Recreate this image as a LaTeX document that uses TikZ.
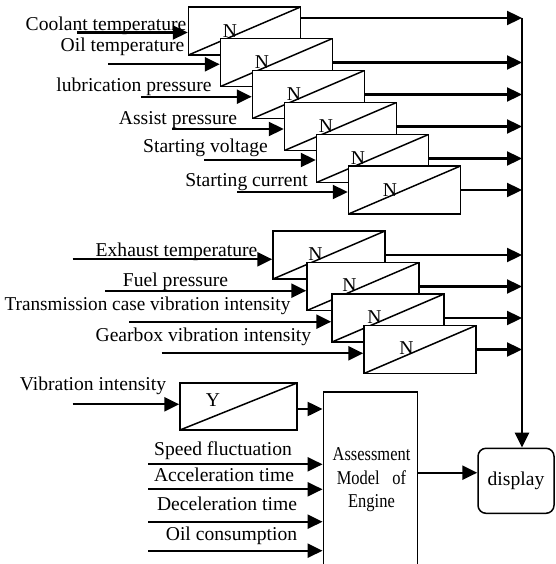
\documentclass[tikz,border=0pt]{standalone}
\usepackage{fontspec}
\setmainfont{Liberation Serif}
\usetikzlibrary{arrows.meta}
\begin{document}
\begin{tikzpicture}[x=1pt,y=-1pt,
  every node/.style={font=\fontsize{19.6}{24}\selectfont},
  lab/.style={anchor=base, inner sep=0pt},
  nl/.style={anchor=center, inner sep=0pt},
  conv/.style={draw, line width=1.5pt, fill=white, minimum width=112pt, minimum height=48pt, inner sep=0pt,
    path picture={\draw[line width=1.5pt] (path picture bounding box.south west) -- (path picture bounding box.north east);}},
  blk/.style={draw, line width=1.5pt, fill=white, inner sep=0pt},
  arr/.style={line width=2.3pt, -{Triangle[length=15pt,width=14pt]}},
  ]
\useasboundingbox (0,0) rectangle (555,564);
\clip (0,0) rectangle (555,564);

% ---- labels ----
\node[lab] (l1) at (106,31) {Coolant temperature};
\node[lab] (l2) at (122.5,51.7) {Oil temperature};
\node[lab] (l3) at (134,91.7) {lubrication pressure};
\node[lab] (l4) at (178,124.3) {Assist pressure};
\node[lab] (l5) at (205.5,152.7) {Starting voltage};
\node[lab] (l6) at (246.5,186.7) {Starting current};
\node[lab] (l7) at (176.5,256) {Exhaust temperature};
\node[lab] (l8) at (175.5,286.7) {Fuel pressure};
\node[lab] (l9) at (147.5,310.7) {\scalebox{0.98}[1]{Transmission case vibration intensity}};
\node[lab] (l10) at (203.4,341.7) {Gearbox vibration intensity};
\node[lab] (l11) at (93,390) {Vibration intensity};
\node[lab] (l12) at (223,455) {Speed fluctuation};
\node[lab] (l13) at (224,481) {Acceleration time};
\node[lab] (l14) at (227,510) {Deceleration time};
\node[lab] (l15) at (231.5,540.7) {Oil consumption};

% ---- bus ----
\coordinate (bus) at (522,18);

% ---- top group ----
\node[conv] (b1) at (244.5,31) {};
\node[nl] (n1) at ([xshift=-14.5pt]b1.center) {N};
\node[conv] (b2) at (276.5,62.5) {};
\node[nl] (n2) at ([xshift=-14.5pt]b2.center) {N};
\node[conv] (b3) at (308.5,94.5) {};
\node[nl] (n3) at ([xshift=-14.5pt]b3.center) {N};
\node[conv] (b4) at (340.5,126.5) {};
\node[nl] (n4) at ([xshift=-14.5pt]b4.center) {N};
\node[conv] (b5) at (372.5,158.5) {};
\node[nl] (n5) at ([xshift=-14.5pt]b5.center) {N};
\node[conv] (b6) at (404.5,190) {};
\node[nl] (n6) at ([xshift=-14.5pt]b6.center) {N};

\coordinate (i1) at (77,32.5);
\coordinate (i2) at (108,64.3);
\coordinate (i3) at (141,96.7);
\coordinate (i4) at (172,129);
\coordinate (i5) at (204,160);
\coordinate (i6) at (237,192);
\foreach \k in {1,...,6}{
  \draw[arr] (i\k) -- (i\k -| b\k.west);
}
\draw[arr] (b1.east |- bus) -- (bus);
\foreach \k in {2,...,6}{
  \draw[arr] (b\k.east) -- (b\k.east -| bus);
}

% ---- second group ----
\node[conv] (c1) at (329,255) {};
\node[nl] (m1) at ([xshift=-13.5pt,yshift=1pt]c1.center) {N};
\node[conv] (c2) at (363,286.5) {};
\node[nl] (m2) at ([xshift=-13.5pt,yshift=1pt]c2.center) {N};
\node[conv] (c3) at (388,318) {};
\node[nl] (m3) at ([xshift=-13.5pt,yshift=1pt]c3.center) {N};
\node[conv] (c4) at (420,349.5) {};
\node[nl] (m4) at ([xshift=-13.5pt,yshift=1pt]c4.center) {N};

\coordinate (j1) at (72.7,259.3);
\coordinate (j2) at (105,290.7);
\coordinate (j3) at (129,321.7);
\coordinate (j4) at (161.7,353.3);
\foreach \k in {1,...,4}{
  \draw[arr] (j\k) -- (j\k -| c\k.west);
  \draw[arr] (c\k.east) -- (c\k.east -| bus);
}

% ---- Y box, model, display ----
\node[conv, minimum width=117pt, minimum height=47pt] (yb) at (238.5,406.5) {};
\node[nl] (ylab) at ([xshift=-25.5pt,yshift=6.5pt]yb.center) {Y};
\node[blk, minimum width=94pt, minimum height=178pt] (model) at (370.3,481) {};
\node[lab] (t1) at (371.5,460) {\scalebox{0.84}[1]{Assessment}};
\node[lab] (t2) at (371.5,484.3) {\scalebox{0.84}[1]{Model\hspace{0.77em}of}};
\node[lab] (t3) at (371.5,507.7) {\scalebox{0.84}[1]{Engine}};
\node[blk, rounded corners=8pt, minimum width=76pt, minimum height=65pt] (disp) at (516,480.8) {display};

\coordinate (yi) at (72.7,404.3);
\draw[arr] (yi) -- (yi -| yb.west);
\coordinate (yo) at (297,409);
\draw[arr] (yo) -- (yo -| model.west);

\coordinate (k1) at (148.3,464.3);
\coordinate (k2) at (148.3,489.3);
\coordinate (k3) at (148.3,521.7);
\coordinate (k4) at (148.3,550.7);
\foreach \k in {1,...,4}{
  \draw[arr] (k\k) -- (k\k -| model.west);
}
\coordinate (mo) at (417.3,472.7);
\draw[arr] (mo) -- (mo -| disp.west);

\draw[arr, line width=2.6pt] (bus) -- (bus |- disp.north);
\end{tikzpicture}
\end{document}
